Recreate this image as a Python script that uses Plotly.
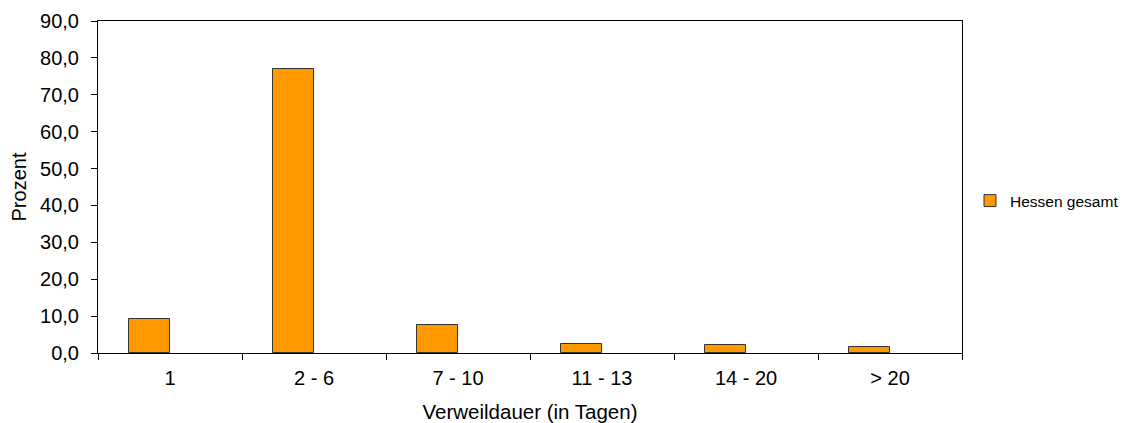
import plotly.graph_objects as go

categories = ["1", "2 - 6", "7 - 10", "11 - 13", "14 - 20", "> 20"]
values = [9.1, 77.0, 7.7, 2.4, 2.3, 1.7]
series_name = "Hessen gesamt"

FONT = "Liberation Sans, Arial, sans-serif"

fig = go.Figure()
fig.add_trace(go.Bar(
    x=categories, y=values, name=series_name,
    width=0.287, offset=-0.287,
    marker=dict(color="#FF9900", line=dict(color="#333333", width=1)),
    showlegend=True,
))

W, H = 1118, 415
fig.update_layout(
    width=W, height=H,
    margin=dict(l=90, r=164, t=13, b=70, autoexpand=False),
    plot_bgcolor="white", paper_bgcolor="white",
    separators=",.",
    font=dict(family=FONT, size=20, color="#000000"),
    showlegend=True,
    legend=dict(xref="container", yref="container",
                x=962 / W, y=1 - 193 / H, xanchor="left", yanchor="middle",
                font=dict(size=15.5, family=FONT), itemwidth=30,
                bgcolor="rgba(0,0,0,0)"),
    bargap=0,
)
fig.update_xaxes(
    title=dict(text="Verweildauer (in Tagen)", font=dict(size=20.5), standoff=16),
    tickson="boundaries", ticks="outside", ticklen=6, tickcolor="#000",
    ticklabelstandoff=7,
    showline=True, linecolor="#000", linewidth=1, mirror=True,
    showgrid=False, tickfont=dict(size=20),
)
fig.update_yaxes(
    title=dict(text="Prozent", font=dict(size=20), standoff=13),
    range=[0, 90], dtick=10, tickformat=".1f",
    ticks="outside", ticklen=6, tickcolor="#000",
    ticklabelstandoff=8,
    showline=True, linecolor="#000", linewidth=1, mirror=True,
    showgrid=False, zeroline=False, tickfont=dict(size=20),
)

fig.write_html("out.html")
